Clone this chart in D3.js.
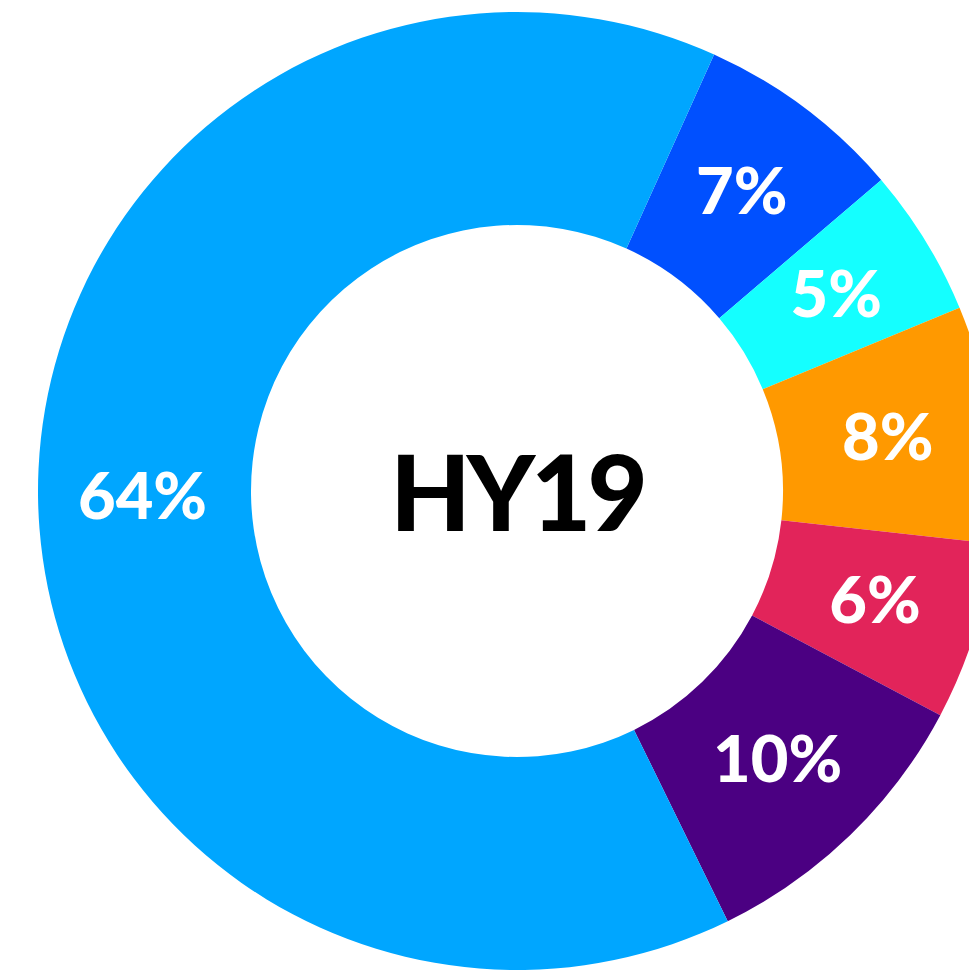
<!DOCTYPE html>
<html>
<head>
<meta charset="utf-8">
<script src="https://cdn.jsdelivr.net/npm/d3@7"></script>
<style>
  html, body { margin: 0; padding: 0; background: #fff; overflow: hidden; }
  text { font-family: Lato, "Open Sans", sans-serif; font-weight: 900; }
</style>
</head>
<body>
<svg width="969" height="971"></svg>
<script>
// slices, clockwise from the dark blue one
var labels = ["7%", "5%", "8%", "6%", "10%", "64%"];
var values = [7, 5, 8, 6, 10, 64];
var colors = ["#0050ff", "#14ffff", "#ff9900", "#e2245a", "#4b0082", "#00a6ff"];
var centerLabel = "HY19";

var svg = d3.select("svg");
var cx = 517, cy = 491;
var outerR = 479, innerR = 266;

var g = svg.append("g").attr("transform", "translate(" + cx + "," + cy + ")");

var start = 24.3 * Math.PI / 180;
var pie = d3.pie().sort(null).value(function(d) { return d; })
    .startAngle(start).endAngle(start + 2 * Math.PI);
var arc = d3.arc().innerRadius(innerR).outerRadius(outerR);
var labelArc = d3.arc().innerRadius(innerR + 2).outerRadius(outerR + 2);

var arcs = pie(values);

g.selectAll(".slice")
    .data(arcs)
    .enter().append("path")
    .attr("class", "slice")
    .attr("d", arc)
    .attr("fill", function(d, i) { return colors[i]; });

g.selectAll(".lbl")
    .data(arcs)
    .enter().append("text")
    .attr("class", "lbl")
    .attr("transform", function(d) { return "translate(" + labelArc.centroid(d) + ")"; })
    .attr("text-anchor", "middle")
    .attr("dy", "0.34em")
    .attr("font-size", "65px")
    .attr("letter-spacing", "0px")
    .attr("fill", "#fff")
    .text(function(d, i) { return labels[i]; });

g.append("text")
    .attr("text-anchor", "middle")
    .attr("y", 3)
    .attr("dy", "0.36em")
    .attr("font-size", "104px")
    .attr("letter-spacing", "-4px")
    .attr("fill", "#000")
    .text(centerLabel);
</script>
</body>
</html>
